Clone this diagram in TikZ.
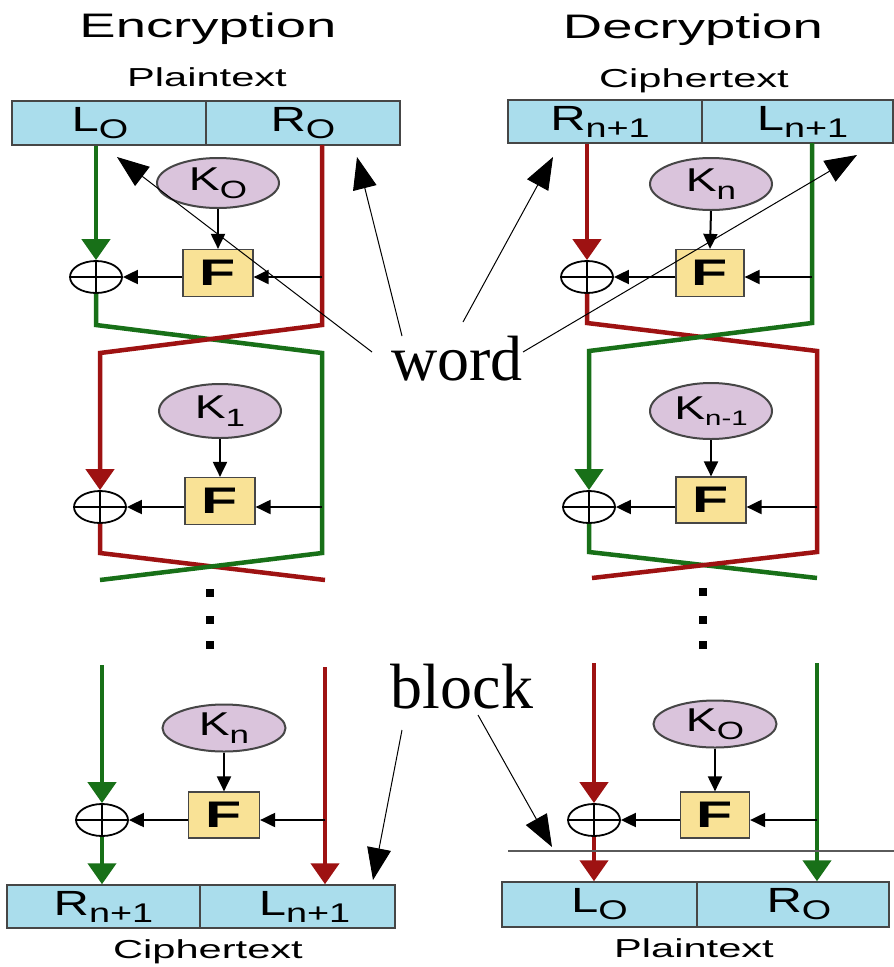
\documentclass[tikz,border=0pt]{standalone}
\usepackage{fontspec}
\usetikzlibrary{shapes.geometric,arrows.meta}
\newfontfamily\sfw[FakeStretch=1.6]{Liberation Sans}
\newfontfamily\sfl[FakeStretch=1.4]{Liberation Sans}
\newfontfamily\serifw{Liberation Serif}
\definecolor{blockblue}{RGB}{170,221,236}
\definecolor{keylav}{RGB}{218,196,220}
\definecolor{fyellow}{RGB}{249,226,150}
\definecolor{bordergray}{RGB}{70,70,70}
\definecolor{dred}{RGB}{158,18,18}
\definecolor{dgreen}{RGB}{24,112,24}
\definecolor{thingray}{RGB}{90,90,90}
\newcommand\bl[2]{{\fontsize{35}{35}\selectfont #1}\raisebox{-7pt}{\fontsize{27}{27}\selectfont #2}}
\newcommand\kl[1]{{\fontsize{33}{33}\selectfont K}\raisebox{-8pt}{\fontsize{25}{25}\selectfont #1}}
\tikzset{
  blk/.style={rectangle, draw=bordergray, line width=1.5pt, fill=blockblue, inner sep=0pt, font=\sfl},
  key/.style={ellipse, draw=bordergray, line width=2pt, fill=keylav, inner sep=0pt, font=\sfl},
  fbox/.style={rectangle, draw=bordergray, line width=1.2pt, fill=fyellow, inner sep=0pt,
               font=\sfw\bfseries\fontsize{37}{37}\selectfont},
  xor/.style={ellipse, draw=black, line width=1.8pt, minimum width=52pt, minimum height=32pt, inner sep=0pt},
  dotsq/.style={rectangle, fill=black, minimum width=8pt, minimum height=8pt, inner sep=0pt},
  gline/.style={draw=dgreen, line width=4.5pt},
  rline/.style={draw=dred, line width=4.5pt},
  carrow/.style={-{Triangle[length=21pt,width=28pt]}},
  barrow/.style={draw=black, line width=2pt, -{Triangle[length=15pt,width=14pt]}},
  note/.style={draw=black, line width=1pt, -{Triangle[length=32pt,width=24pt]}},
  cross/.style={draw=black, line width=1.8pt},
  title/.style={font=\sfw\fontsize{34}{34}\selectfont, anchor=base},
  sub/.style={font=\sfw\fontsize{26}{26}\selectfont, anchor=base},
  big/.style={font=\serifw\fontsize{64}{64}\selectfont, anchor=base},
}
\begin{document}
\begin{tikzpicture}[x=1pt,y=-1pt]
\useasboundingbox (0,0) rectangle (894,967);
\fill[white] (0,0) rectangle (894,967);

% ================= ENCRYPTION =================
\node[title] (etitle) at (208,37) {Encryption};
\node[sub] (eplain) at (207,86) {Plaintext};
\node[blk, minimum width=194pt, minimum height=44pt] (eL0) at (109,123) {\bl{L}{O}\hspace*{18pt}};
\node[blk, minimum width=194pt, minimum height=44pt] (eR0) at (303,123) {\bl{R}{O}};

% round 1
\node[key, minimum width=122pt, minimum height=50pt] (eK0) at (218,183) {\kl{O}};
\node[fbox, minimum width=70pt, minimum height=47pt] (eF0) at (218,273) {F};
\node[xor] (eX0) at (96,277) {};
\draw[cross] (eX0.north) -- (eX0.south) (eX0.west) -- (eX0.east);
\coordinate (eg0) at (96,325);
\coordinate (eg1) at (322,353);
\coordinate (eg2) at (322,553);
\coordinate (eg3) at (100,580);
\coordinate (er0) at (322,145);
\coordinate (er1) at (322,325);
\coordinate (er2) at (100,353);
\coordinate (er3) at (100,553);
\coordinate (er4) at (325,580);
\coordinate (eh0) at (322,277);

% round 2
\node[key, minimum width=122pt, minimum height=54pt] (eK1) at (220,411) {\kl{1}};
\node[fbox, minimum width=70pt, minimum height=47pt] (eF1) at (220,501) {F};
\node[xor] (eX1) at (100,507) {};
\draw[cross] (eX1.north) -- (eX1.south) (eX1.west) -- (eX1.east);
\coordinate (eh1) at (322,507);

\draw[rline, line join=miter] (eX1.south) -- (er3) -- (er4);
\draw[gline, line join=miter] (eX0.south) -- (eg0) -- (eg1) -- (eg2) -- (eg3);
\draw[rline, carrow, line join=miter] (er0) -- (er1) -- (er2) -- (eX1.north);
\draw[gline, carrow] (eX0 |- eL0.south) -- (eX0.north);

\draw[barrow] (eK0.south) -- (eF0.north);
\draw[barrow] (eh0) -- (eF0.east |- eh0);
\draw[barrow] (eF0.west |- eX0) -- (eX0.east);
\draw[barrow] (eK1.south) -- (eF1.north);
\draw[barrow] (eh1) -- (eF1.east |- eh1);
\draw[barrow] (eF1.west |- eX1) -- (eX1.east);

% dots
\node[dotsq] (ed1) at (210,593) {};
\node[dotsq] (ed2) at (210,620) {};
\node[dotsq] (ed3) at (210,645) {};

% last round
\node[blk, minimum width=193pt, minimum height=43pt] (eRn) at (103.5,906.5) {\bl{R}{n+1}};
\node[blk, minimum width=195pt, minimum height=43pt] (eLn) at (297.5,906.5) {\hspace*{14pt}\bl{L}{n+1}};
\node[key, minimum width=123pt, minimum height=47pt] (eK2) at (224,728) {\kl{n}};
\node[fbox, minimum width=71pt, minimum height=46pt] (eF2) at (224,815) {F};
\node[xor] (eX2) at (102,820) {};
\draw[cross] (eX2.north) -- (eX2.south) (eX2.west) -- (eX2.east);
\coordinate (eg5) at (102,665);
\coordinate (er5) at (325,667);
\coordinate (eh2) at (325,820);
\draw[gline, carrow] (eg5) -- (eX2.north);
\draw[gline, carrow] (eX2.south) -- (eX2 |- eRn.north);
\draw[rline, carrow] (er5) -- (er5 |- eLn.north);
\draw[barrow] (eK2.south) -- (eF2.north);
\draw[barrow] (eh2) -- (eF2.east |- eh2);
\draw[barrow] (eF2.west |- eX2) -- (eX2.east);
\node[sub] (ecipher) at (208,958) {Ciphertext};

% ================= DECRYPTION =================
\node[title] (dtitle) at (693,38) {Decryption};
\node[sub] (dcipher) at (694,87) {Ciphertext};
\node[blk, minimum width=194pt, minimum height=43pt] (dRn) at (605,121.5) {\bl{R}{n+1}\hspace*{10pt}};
\node[blk, minimum width=191pt, minimum height=43pt] (dLn) at (797.5,121.5) {\hspace*{10pt}\bl{L}{n+1}};

% round 1
\node[key, minimum width=122pt, minimum height=52pt] (dK0) at (711,184) {\kl{n}};
\node[fbox, minimum width=68pt, minimum height=47pt] (dF0) at (710,273) {F};
\node[xor] (dX0) at (587,277) {};
\draw[cross] (dX0.north) -- (dX0.south) (dX0.west) -- (dX0.east);
\coordinate (dr0) at (587,323);
\coordinate (dr1) at (817,351);
\coordinate (dr2) at (817,552);
\coordinate (dr3) at (592,578);
\coordinate (dg0) at (812,143);
\coordinate (dg1) at (812,323);
\coordinate (dg2) at (589,351);
\coordinate (dg3) at (589,552);
\coordinate (dg4) at (817,578);
\coordinate (dh0) at (812,277);

% round 2
\node[key, minimum width=122pt, minimum height=56pt] (dK1) at (711,411) {{\fontsize{33}{33}\selectfont K}\raisebox{-6pt}{\fontsize{21}{21}\selectfont n-1}};
\node[fbox, minimum width=70pt, minimum height=46pt] (dF1) at (711,500) {F};
\node[xor] (dX1) at (589,507) {};
\draw[cross] (dX1.north) -- (dX1.south) (dX1.west) -- (dX1.east);
\coordinate (dh1) at (817,507);

\draw[gline, line join=miter] (dX1.south) -- (dg3) -- (dg4);
\draw[rline, line join=miter] (dX0.south) -- (dr0) -- (dr1) -- (dr2) -- (dr3);
\draw[gline, carrow, line join=miter] (dg0) -- (dg1) -- (dg2) -- (dX1.north);
\draw[rline, carrow] (dX0 |- dRn.south) -- (dX0.north);

\draw[barrow] (dK0.south) -- (dF0.north);
\draw[barrow] (dh0) -- (dF0.east |- dh0);
\draw[barrow] (dF0.west |- dX0) -- (dX0.east);
\draw[barrow] (dK1.south) -- (dF1.north);
\draw[barrow] (dh1) -- (dF1.east |- dh1);
\draw[barrow] (dF1.west |- dX1) -- (dX1.east);

% dots
\node[dotsq] (dd1) at (703,592) {};
\node[dotsq] (dd2) at (703,620) {};
\node[dotsq] (dd3) at (703,645) {};

% last round
\node[blk, minimum width=195pt, minimum height=45pt] (dL0) at (599.5,904.5) {\bl{L}{O}};
\node[blk, minimum width=192pt, minimum height=45pt] (dR0) at (793,904.5) {\hspace*{12pt}\bl{R}{O}};
\node[key, minimum width=123pt, minimum height=47pt] (dK2) at (715,724) {\kl{O}};
\node[fbox, minimum width=69pt, minimum height=46pt] (dF2) at (715,815) {F};
\node[xor] (dX2) at (594,820) {};
\draw[cross] (dX2.north) -- (dX2.south) (dX2.west) -- (dX2.east);
\coordinate (dr5) at (594,663);
\coordinate (dg5) at (817,663);
\coordinate (dh2) at (817,820);
\draw[rline, carrow] (dr5) -- (dX2.north);
\draw[rline, carrow] (dX2.south) -- (dX2 |- dL0.north);
\draw[gline, carrow] (dg5) -- (dg5 |- dR0.north);
\draw[barrow] (dK2.south) -- (dF2.north);
\draw[barrow] (dh2) -- (dF2.east |- dh2);
\draw[barrow] (dF2.west |- dX2) -- (dX2.east);
\coordinate (hl0) at (508,851);
\coordinate (hl1) at (894,851);
\draw[thingray, line width=1.2pt] (hl0) -- (hl1);
\node[sub] (dplain) at (694,957) {Plaintext};

% ================= ANNOTATIONS =================
\node[big] (word) at (457,380) {word};
\node[big] (block) at (462,708) {block};
\coordinate (ws1) at (372,352);
\coordinate (ws2) at (402,336);
\coordinate (ws3) at (463,322);
\coordinate (ws4) at (523,352);
\coordinate (wt1) at (117,157);
\coordinate (wt2) at (357,157);
\coordinate (wt3) at (553,157);
\coordinate (wt4) at (857,155);
\coordinate (bs1) at (402,730);
\coordinate (bs2) at (478,715);
\coordinate (bt1) at (373,880);
\coordinate (bt2) at (552,847);
\draw[note] (ws1) -- (wt1);
\draw[note] (ws2) -- (wt2);
\draw[note] (ws3) -- (wt3);
\draw[note] (ws4) -- (wt4);
\draw[note] (bs1) -- (bt1);
\draw[note] (bs2) -- (bt2);
\end{tikzpicture}
\end{document}
